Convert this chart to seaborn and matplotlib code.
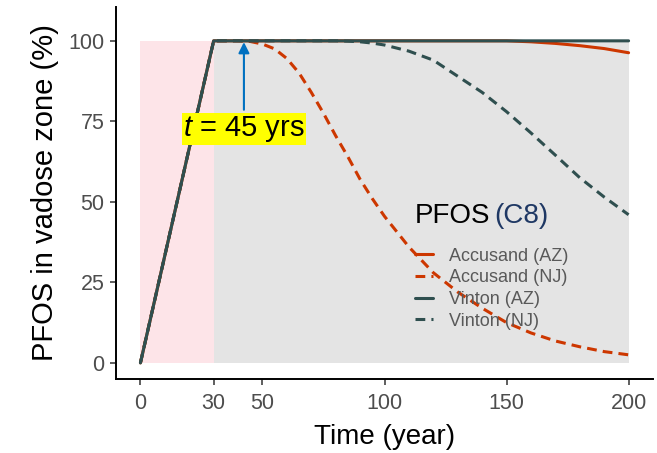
import matplotlib
matplotlib.use("Agg")
import matplotlib.pyplot as plt
from matplotlib.lines import Line2D
import seaborn as sns
import pandas as pd

# ---- data ----
time = [0, 30, 40, 45, 50, 55, 60, 65, 70, 75, 80, 85, 90, 95, 100,
        110, 120, 130, 140, 150, 160, 170, 180, 190, 200]
accusand_az = [0, 100, 100, 100, 100, 100, 100, 100, 100, 100, 100, 100, 100, 100, 100,
               100, 100, 100, 100, 100, 99.7, 99.2, 98.5, 97.6, 96.3]
accusand_nj = [0, 100, 100, 99.8, 99, 97.5, 94.5, 90, 84, 77.5, 70.5, 64, 57, 51, 45.5,
               36, 28, 22, 17, 12.5, 9.3, 6.8, 5, 3.5, 2.5]
vinton_az = [0, 100, 100, 100, 100, 100, 100, 100, 100, 100, 100, 100, 100, 100, 100,
             100, 100, 100, 100, 100, 100, 100, 100, 100, 100]
vinton_nj = [0, 100, 100, 100, 100, 100, 100, 100, 100, 100, 100, 99.9, 99.7, 99.3, 98.7,
             96.8, 94, 89, 84, 78, 71.4, 64.5, 57.5, 51.5, 46]
series_names = ["Accusand (AZ)", "Accusand (NJ)", "Vinton (AZ)", "Vinton (NJ)"]
x_ticks = [0, 30, 50, 100, 150, 200]
y_ticks = [0, 25, 50, 75, 100]

orange = "#CD3700"
dark = "#2F4F4F"
palette = {"Accusand (AZ)": orange, "Accusand (NJ)": orange,
           "Vinton (AZ)": dark, "Vinton (NJ)": dark}
dash_map = {"Accusand (AZ)": "", "Accusand (NJ)": (3.2, 2.0),
            "Vinton (AZ)": "", "Vinton (NJ)": (3.2, 2.0)}

frames = []
for name, vals in zip(series_names, [accusand_az, accusand_nj, vinton_az, vinton_nj]):
    frames.append(pd.DataFrame({"time": time, "value": vals, "series": name}))
df = pd.concat(frames, ignore_index=True)

sns.set_theme(style="ticks")
plt.rcParams["font.family"] = ["Liberation Sans", "DejaVu Sans"]
plt.rcParams["mathtext.fontset"] = "custom"
plt.rcParams["mathtext.it"] = "Liberation Sans:italic"
plt.rcParams["mathtext.rm"] = "Liberation Sans"

fig = plt.figure(figsize=(6.57, 4.53), dpi=100)
ax = fig.add_axes([0.1766, 0.1634, 0.9939 - 0.1766, 0.9845 - 0.1634])

# background regions
ax.fill_between([0, 30], 0, 100, color="#FDE4E8", lw=0, zorder=0)
ax.fill_between([30, 200], 0, 100, color="#E4E4E4", lw=0, zorder=0)

sns.lineplot(data=df, x="time", y="value", hue="series", style="series",
             hue_order=series_names, style_order=series_names,
             palette=palette, dashes=dash_map, linewidth=2.2, legend=False, ax=ax,
             zorder=2)

ax.set_xlim(-10, 210)
ax.set_ylim(-5, 110.5)
ax.set_xticks(x_ticks)
ax.set_yticks(y_ticks)
ax.set_xlabel("Time (year)", fontsize=20, color="black", labelpad=7)
ax.set_ylabel("PFOS in vadose zone (%)", fontsize=21, color="black", labelpad=7)
ax.tick_params(axis="both", labelsize=15.5, labelcolor="#4D4D4D", length=4.3,
               width=1.1, color="#333333")
ax.tick_params(axis="x", pad=6)
ax.tick_params(axis="y", pad=4)
for side in ["top", "right"]:
    ax.spines[side].set_visible(False)
for side in ["left", "bottom"]:
    ax.spines[side].set_linewidth(1.4)
    ax.spines[side].set_color("black")

# annotation arrow and label
ax.annotate("", xy=(42.4, 99.6), xytext=(42.4, 78.6),
            arrowprops=dict(arrowstyle="-|>", color="#0070C0", lw=1.5,
                            mutation_scale=16, shrinkA=0, shrinkB=0), zorder=4)
ax.text(42.4, 72.7, "$t$ = 45 yrs", fontsize=21, ha="center", va="center",
        color="black", zorder=5,
        bbox=dict(boxstyle="square,pad=0.04", fc="#FFFF00", ec="none"))

# legend title in two colours
t1 = ax.text(112.2, 45.6, "PFOS", fontsize=20, color="black", ha="left", va="center",
             zorder=5)
ax.annotate("(C8)", xy=(1, 0), xycoords=t1, xytext=(3, 0), textcoords="offset points",
            fontsize=20, color="#1F3864", ha="left", va="bottom", zorder=5)

handles = [Line2D([], [], color=palette[n], lw=2.2,
                  linestyle="-" if dash_map[n] == "" else (0, dash_map[n]))
           for n in series_names]
leg = ax.legend(handles, series_names, loc="upper left", bbox_to_anchor=(0.557, 0.353),
                frameon=False, fontsize=13, handlelength=1.0, handletextpad=0.9,
                labelspacing=0.26, borderaxespad=0, borderpad=0, labelcolor="#595959")

fig.savefig("out.png", dpi=100)
